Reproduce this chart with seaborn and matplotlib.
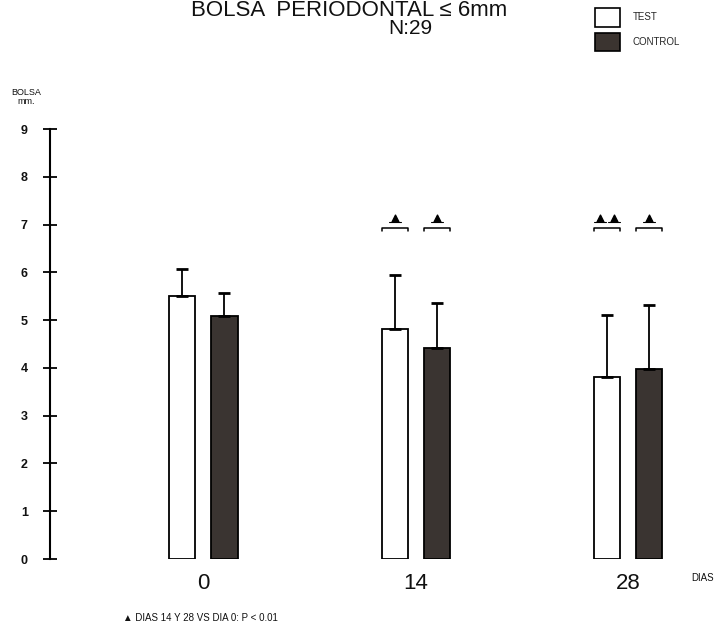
import numpy as np
import pandas as pd
import matplotlib
matplotlib.use("Agg")
import matplotlib.pyplot as plt
import seaborn as sns
from matplotlib.patches import Patch

# datos (media y desviacion, solo hacia arriba)
dias = ["0", "14", "28"]
test_media = [5.5, 4.82, 3.8]
test_de = [0.58, 1.12, 1.3]
control_media = [5.09, 4.41, 3.97]
control_de = [0.48, 0.95, 1.34]
# cantidad de triangulos de significancia sobre cada barra
test_sig = [0, 1, 2]
control_sig = [0, 1, 1]

grupos = ["TEST", "CONTROL"]
colores = {"TEST": "white", "CONTROL": "#3b3430"}

df = pd.DataFrame({
    "dia": dias * 2,
    "grupo": ["TEST"] * 3 + ["CONTROL"] * 3,
    "media": test_media + control_media,
    "de": test_de + control_de,
    "sig": test_sig + control_sig,
})

sns.set_theme(style="white")
plt.rcParams["font.family"] = ["Liberation Sans", "DejaVu Sans"]

fig = plt.figure(figsize=(7.15, 6.31), dpi=100)
W, H = 715, 631
ax = fig.add_axes([50 / W, 1 - 559 / H, (690 - 50) / W, (559 - 129) / H])

sns.barplot(data=df, x="dia", y="media", hue="grupo", hue_order=grupos,
            palette=colores, width=0.396, gap=0.38, errorbar=None,
            edgecolor="black", linewidth=1.3, legend=False, ax=ax, zorder=2)

# barras en orden: primero TEST (3), luego CONTROL (3)
barras = list(ax.patches)
xc = np.array([b.get_x() + b.get_width() / 2 for b in barras])
ax.errorbar(xc, df["media"], yerr=[np.zeros(len(df)), df["de"]], fmt="none",
            ecolor="black", elinewidth=1.3, capsize=4, capthick=2, zorder=3)

# corchetes y triangulos de significancia
y_corchete, y_tri = 6.93, 7.13
for b, n in zip(barras, df["sig"]):
    if n == 0:
        continue
    x0, x1 = b.get_x(), b.get_x() + b.get_width()
    ax.plot([x0, x0, x1, x1], [y_corchete - 0.06, y_corchete, y_corchete, y_corchete - 0.06],
            color="black", lw=1.1, clip_on=False)
    cx = (x0 + x1) / 2
    pos = [cx] if n == 1 else [cx - 0.033, cx + 0.033]
    for p in pos:
        ax.plot([p - 0.028, p + 0.028], [y_tri - 0.07] * 2, color="black", lw=0.8, clip_on=False)
    ax.scatter(pos, [y_tri] * len(pos), marker="^", s=24, color="black", zorder=4, clip_on=False)

ax.set_xlim(-0.723, 2.292)
ax.set_ylim(0, 9)
ax.set_yticks(range(10))
ax.set_xlabel("")
ax.set_ylabel("")
for s in ["top", "right", "bottom"]:
    ax.spines[s].set_visible(False)
ax.spines["left"].set_color("black")
ax.spines["left"].set_linewidth(1.5)
ax.tick_params(axis="y", direction="inout", length=10, width=1.3, color="black",
               left=True, labelsize=9, pad=11, labelcolor="#111111")
for t in ax.get_yticklabels():
    t.set_fontweight("bold")
ax.tick_params(axis="x", length=0, labelsize=16, pad=10, labelcolor="#111111")

# leyenda
handles = [Patch(facecolor=colores[g], edgecolor="black", linewidth=1.2) for g in grupos]
fig.legend(handles, grupos, loc="upper left", bbox_to_anchor=(595 / W, 1 - 8 / H),
           frameon=False, fontsize=7, handlelength=2.6, handleheight=2.6,
           handletextpad=1.3, labelspacing=0.6, borderpad=0, borderaxespad=0)

# textos
fig.text(349 / W, 1 - 16 / H, "BOLSA  PERIODONTAL ≤ 6mm", ha="center", va="baseline",
         fontsize=16, color="#111111")
fig.text(410 / W, 1 - 29 / H, "N:29", ha="center", va="center", fontsize=15, color="#111111")
fig.text(26 / W, 1 - 97 / H, "BOLSA\nmm.", ha="center", va="center", fontsize=6.5,
         linespacing=1.0, color="#111111")
fig.text(703 / W, 1 - 578 / H, "DIAS", ha="center", va="center", fontsize=7, color="#111111")
fig.text(123 / W, 1 - 618 / H, "▲ DIAS 14 Y 28 VS DIA 0: P < 0.01", ha="left", va="center",
         fontsize=7, color="#111111")

plt.savefig("out.png", dpi=100)
